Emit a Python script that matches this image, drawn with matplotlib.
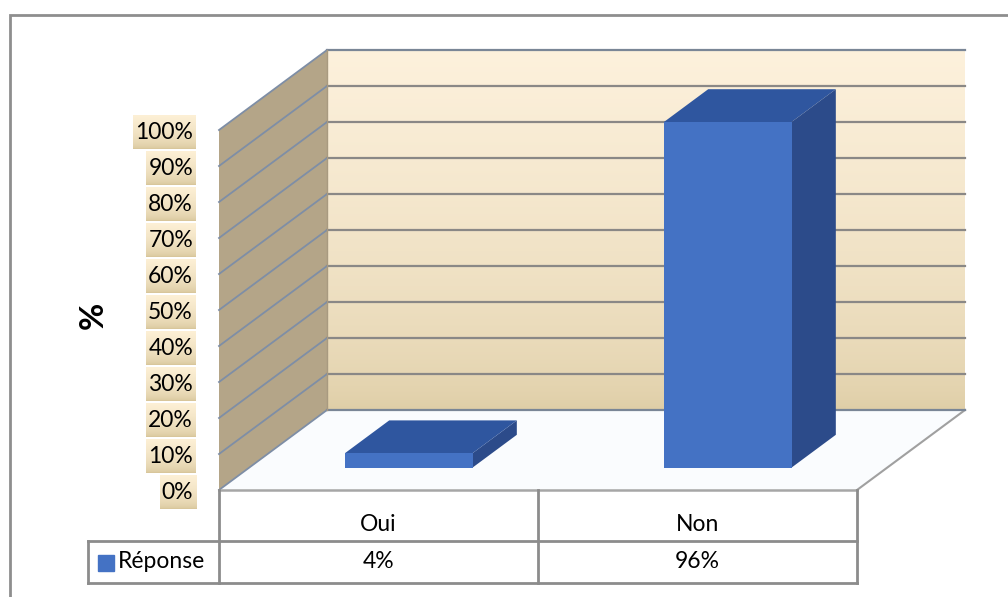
import numpy as np
import matplotlib
matplotlib.use("Agg")
import matplotlib.pyplot as plt
from matplotlib.patches import Polygon, Rectangle

# data
categories = ["Oui", "Non"]
values = [4, 96]
value_labels = ["4%", "96%"]
series_name = "Réponse"
ticks = [0, 10, 20, 30, 40, 50, 60, 70, 80, 90, 100]
tick_labels = ["%d%%" % t for t in ticks]

plt.rcParams['font.family'] = ['Lato', 'DejaVu Sans']

W, H = 1008, 597
fig = plt.figure(figsize=(W / 100, H / 100), dpi=100)
ax = fig.add_axes([0, 0, 1, 1])
ax.axis("off")

# front plane: categories at 0,1 (edges -0.5..1.5), values 0..100
px_x = 319.0      # pixels per category
px_y = 3.6        # pixels per percent
left_px, base_px = 219, 490
ax.set_xlim(-0.5 - left_px / px_x, -0.5 + (W - left_px) / px_x)
ax.set_ylim(-(H - base_px) / px_y, base_px / px_y)

# depth of the 3d box (in data units)
DX = 108 / px_x
DY = 80 / px_y
x_lo, x_hi = -0.5, len(categories) - 0.5
ymax = ticks[-1]

# outer frame of the chart area
fig.patches.append(Rectangle((10 / W, -0.02), 1.1, 1 - 15 / H + 0.02,
                             transform=fig.transFigure, fill=False,
                             edgecolor="#8e8e8e", lw=2))

# left wall
ax.add_patch(Polygon([(x_lo, 0), (x_lo, ymax), (x_lo + DX, ymax + DY), (x_lo + DX, DY)],
                     closed=True, facecolor="#b4a588", edgecolor="none", zorder=1))
# back wall with a vertical gradient
grad = np.linspace(0, 1, 256)[:, None]
c_top = np.array([253, 241, 220]) / 255
c_bot = np.array([222, 205, 165]) / 255
img = c_bot + (c_top - c_bot) * grad[..., None] ** 0.6
img = np.repeat(img, 2, axis=1)
ax.imshow(img, extent=[x_lo + DX, x_hi + DX, DY, ymax + DY], origin="lower",
          aspect="auto", zorder=1, interpolation="bilinear")
# floor
ax.add_patch(Polygon([(x_lo, 0), (x_hi, 0), (x_hi + DX, DY), (x_lo + DX, DY)],
                     closed=True, facecolor="#fafcfe", edgecolor="none", zorder=1))
ax.plot([x_hi, x_hi + DX], [0, DY], color="#a0a0a0", lw=1.5, zorder=2)

# gridlines
for t in ticks:
    ax.plot([x_lo + DX, x_hi + DX], [t + DY, t + DY],
            color="#7a8696" if t in (0, ymax) else "#8a8886", lw=1.6, zorder=2)
    ax.plot([x_lo, x_lo + DX], [t, t + DY], color="#7e8ea6", lw=1.3, zorder=2)
ax.plot([x_lo + DX, x_lo + DX], [DY, ymax + DY], color="#a89a80", lw=1, zorder=2)

# 3d bars
bw = 0.4
f0, f1 = 0.28, 0.69
for k, v in enumerate(values):
    x0, x1 = k - bw / 2, k + bw / 2
    ax0, ay0 = f0 * DX, f0 * DY
    ax1, ay1 = f1 * DX, f1 * DY
    front = [(x0 + ax0, ay0), (x1 + ax0, ay0), (x1 + ax0, v + ay0), (x0 + ax0, v + ay0)]
    top = [(x0 + ax0, v + ay0), (x1 + ax0, v + ay0), (x1 + ax1, v + ay1), (x0 + ax1, v + ay1)]
    side = [(x1 + ax0, ay0), (x1 + ax1, ay1), (x1 + ax1, v + ay1), (x1 + ax0, v + ay0)]
    ax.add_patch(Polygon(side, closed=True, facecolor="#2c4b8a", edgecolor="none", zorder=3))
    ax.add_patch(Polygon(top, closed=True, facecolor="#2f569f", edgecolor="none", zorder=3))
    ax.add_patch(Polygon(front, closed=True, facecolor="#4472c4", edgecolor="none", zorder=3))

# value axis labels with beige boxes
label_x = x_lo - 26 / px_x
txts = []
for t, lab in zip(ticks, tick_labels):
    txts.append(ax.text(label_x, t - 0.8, lab, ha="right", va="center",
                        fontsize=16.5, color="black", zorder=6))
fig.canvas.draw()
inv = ax.transData.inverted()
box_grad = np.linspace(0, 1, 64)[:, None]
b_top = np.array([253, 240, 214]) / 255
b_bot = np.array([214, 196, 152]) / 255
bimg = b_bot + (b_top - b_bot) * box_grad[..., None] ** 0.5
bimg = np.repeat(bimg, 2, axis=1)
for t, tx in zip(ticks, txts):
    bb = tx.get_window_extent()
    (xa, _), (xb, _) = inv.transform([(bb.x0 - 2, 0), (bb.x1 + 3, 0)])
    yc = t - 0.8
    ax.imshow(bimg, extent=[xa, xb, yc - 4.6, yc + 4.6], origin="lower",
              aspect="auto", zorder=5, interpolation="bilinear")

ax.text(x_lo - 126 / px_x, 50 - 1.5, "%", rotation=90, ha="center", va="center",
        fontsize=24, fontweight="bold", zorder=6)

# data table
row1 = -51 / px_y
row2 = -93 / px_y
tab_left = x_lo - 131 / px_x
tc = "#8c8c8c"
ax.plot([x_lo, x_hi], [0, 0], color="#a6a6a6", lw=1.8, zorder=4)
ax.plot([tab_left, x_hi], [row1, row1], color=tc, lw=2, zorder=4)
ax.plot([tab_left, x_hi], [row2, row2], color=tc, lw=2, zorder=4)
ax.plot([tab_left, tab_left], [row1, row2], color=tc, lw=2, zorder=4)
for e in np.arange(x_lo, x_hi + 0.01, 1.0):
    ax.plot([e, e], [0, row2], color=tc, lw=2, zorder=4)
for k, (c, vl) in enumerate(zip(categories, value_labels)):
    ax.text(k, row1 * 0.68, c, ha="center", va="center", fontsize=16.5)
    ax.text(k, (row1 + row2) / 2, vl, ha="center", va="center", fontsize=16.5)
ax.plot([tab_left + 18 / px_x], [(row1 + row2) / 2 - 0.4], marker="s", markersize=11,
        color="#4472c4", linestyle="none")
ax.text(tab_left + 30 / px_x, (row1 + row2) / 2, series_name, ha="left", va="center",
        fontsize=16.5)

fig.savefig("out.png", dpi=100)
